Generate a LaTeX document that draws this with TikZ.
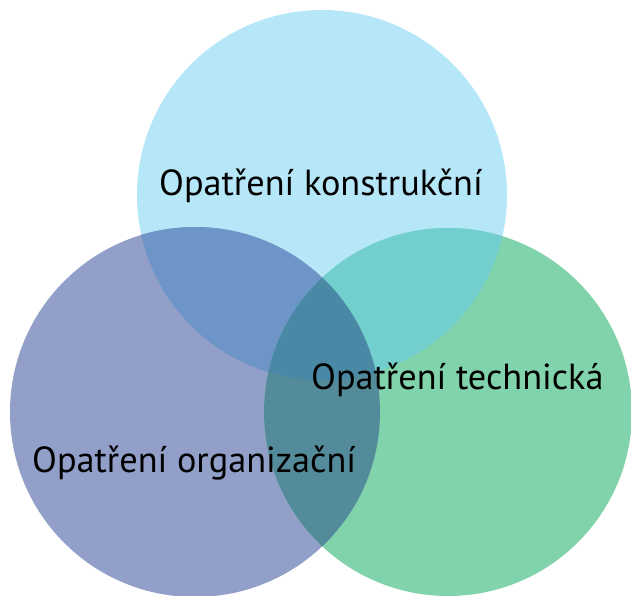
\documentclass[tikz,border=0pt]{standalone}
\usepackage{fontspec}
\setmainfont{PT Sans}
\definecolor{ctop}{HTML}{B6E7F9}
\definecolor{cleft}{HTML}{929FC8}
\definecolor{cright}{HTML}{80D3AA}
\definecolor{ctl}{HTML}{6D95C7}
\definecolor{ctr}{HTML}{73CFCD}
\definecolor{clr}{HTML}{548B9A}
\definecolor{call}{HTML}{4A89A6}
\begin{document}
\begin{tikzpicture}[x=1pt,y=-1pt,
  lbl/.style={anchor=base west,inner sep=0pt,font=\fontsize{36.3}{40}\selectfont,text=black}]
\useasboundingbox (0,0) rectangle (631,596);
\def\ctop{(322,195) circle[radius=185]}
\def\cleft{(195,412) circle[radius=185]}
\def\cright{(448,412) circle[radius=184]}
\fill[ctop] \ctop;
\fill[cleft] \cleft;
\fill[cright] \cright;
\begin{scope}\clip \ctop; \fill[ctl] \cleft; \fill[ctr] \cright; \end{scope}
\begin{scope}\clip \cleft; \fill[clr] \cright; \end{scope}
\begin{scope}\clip \ctop; \clip \cleft; \fill[call] \cright; \end{scope}
\node[lbl] (t1) at (159,195) {Opatření konstrukční};
\node[lbl] (t2) at (311,389) {Opatření technická};
\node[lbl] (t3) at (32,472) {Opatření organizační};
\end{tikzpicture}
\end{document}
